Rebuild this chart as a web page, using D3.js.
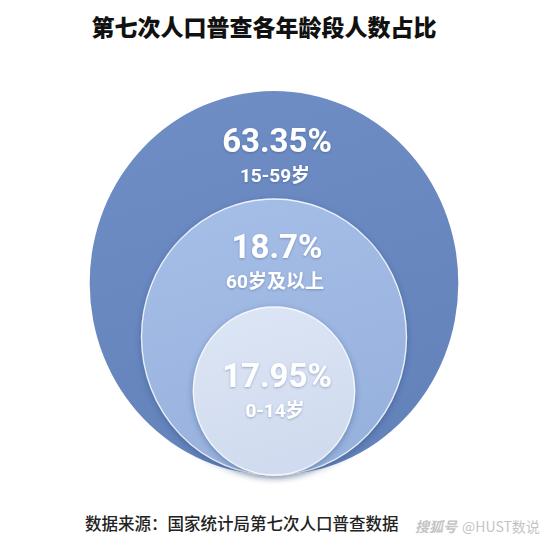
<!DOCTYPE html>
<html>
<head>
<meta charset="utf-8">
<script src="https://cdn.jsdelivr.net/npm/d3@7"></script>
<style>
  html, body { margin: 0; padding: 0; background: #ffffff; }
  svg { display: block; }
</style>
</head>
<body>
<svg id="chart" width="554" height="554"></svg>
<script>
// ---- data ----
const categories = ["15-59岁", "60岁及以上", "0-14岁"];
const values = [63.35, 18.7, 17.95];
const valueLabels = ["63.35%", "18.7%", "17.95%"];
const title = "第七次人口普查各年龄段人数占比";
const source = "数据来源：国家统计局第七次人口普查数据";
const watermark = ["搜狐号", "@HUST数说"];

const data = categories.map((c, i) => ({ category: c, value: values[i], label: valueLabels[i] }));

// ---- scales ----
const W = 554, H = 554;
const cx = 274, bottom = 475;
const rScale = d3.scaleOrdinal().domain(categories).range([192, 138, 84]);
const aspect = 0.96;
const fillTop = d3.scaleOrdinal().domain(categories).range(["#6f8ec6", "#a6bfe8", "#dde6f5"]);
const fillBot = d3.scaleOrdinal().domain(categories).range(["#6483bb", "#98b2de", "#d0dbef"]);

const svg = d3.select("#chart");
const defs = svg.append("defs");

const shadow = defs.append("filter").attr("id", "shadow")
  .attr("x", "-20%").attr("y", "-20%").attr("width", "140%").attr("height", "140%");
shadow.append("feDropShadow").attr("dx", 0).attr("dy", 2).attr("stdDeviation", 3)
  .attr("flood-color", "#1f3564").attr("flood-opacity", 0.35);

const tshadow = defs.append("filter").attr("id", "tshadow")
  .attr("x", "-20%").attr("y", "-30%").attr("width", "140%").attr("height", "160%");
tshadow.append("feDropShadow").attr("dx", 0).attr("dy", 1).attr("stdDeviation", 1.2)
  .attr("flood-color", "#2a3c66").attr("flood-opacity", 0.35);

data.forEach((d, i) => {
  const g = defs.append("linearGradient").attr("id", "grad" + i)
    .attr("x1", 0).attr("y1", 0).attr("x2", 0.3).attr("y2", 1);
  g.append("stop").attr("offset", "0%").attr("stop-color", fillTop(d.category));
  g.append("stop").attr("offset", "100%").attr("stop-color", fillBot(d.category));
});

// ---- circles ----
const circles = svg.append("g");
circles.selectAll("ellipse")
  .data(data)
  .join("ellipse")
  .attr("cx", cx)
  .attr("cy", d => bottom - rScale(d.category))
  .attr("rx", d => rScale(d.category) * aspect)
  .attr("ry", d => rScale(d.category))
  .attr("fill", (d, i) => `url(#grad${i})`)
  .attr("stroke", (d, i) => i === 0 ? "none" : "rgba(255,255,255,0.85)")
  .attr("stroke-width", 1.3)
  .attr("filter", (d, i) => i === 0 ? null : "url(#shadow)");

// ---- labels ----
const labelOffsets = d3.scaleOrdinal().domain(categories).range([-131, -79, -4]);
const lg = svg.append("g")
  .attr("fill", "#ffffff")
  .attr("text-anchor", "middle")
  .attr("filter", "url(#tshadow)");

data.forEach(d => {
  const cy = bottom - rScale(d.category);
  const base = cy + labelOffsets(d.category);
  lg.append("text")
    .attr("x", 277)
    .attr("y", base)
    .attr("font-family", "Roboto, 'Noto Sans CJK SC', sans-serif")
    .attr("font-weight", 700)
    .attr("font-size", 33)
    .text(d.label);
  lg.append("text")
    .attr("x", 275)
    .attr("y", base + 30)
    .attr("font-family", "Roboto, 'Noto Sans CJK SC', sans-serif")
    .attr("font-weight", 700)
    .attr("font-size", 19)
    .text(d.category);
});

// ---- title ----
svg.append("text")
  .attr("x", 264)
  .attr("y", 36)
  .attr("text-anchor", "middle")
  .attr("font-family", "'Noto Sans CJK SC', sans-serif")
  .attr("font-weight", 900)
  .attr("font-size", 23)
  .attr("fill", "#111111")
  .text(title);

// ---- source ----
svg.append("text")
  .attr("x", 85)
  .attr("y", 530)
  .attr("font-family", "'Noto Sans CJK SC', sans-serif")
  .attr("font-weight", 500)
  .attr("font-size", 16.5)
  .attr("fill", "#222222")
  .text(source);

// ---- watermark ----
const wm = svg.append("text")
  .attr("x", 415)
  .attr("y", 532)
  .attr("font-family", "'Noto Sans CJK SC', sans-serif")
  .attr("font-size", 14)
  .attr("fill", "#c4c4c4");
wm.append("tspan").attr("font-style", "italic").attr("font-weight", 700).text(watermark[0]);
wm.append("tspan").attr("dx", 5).text(watermark[1]);
</script>
</body>
</html>
